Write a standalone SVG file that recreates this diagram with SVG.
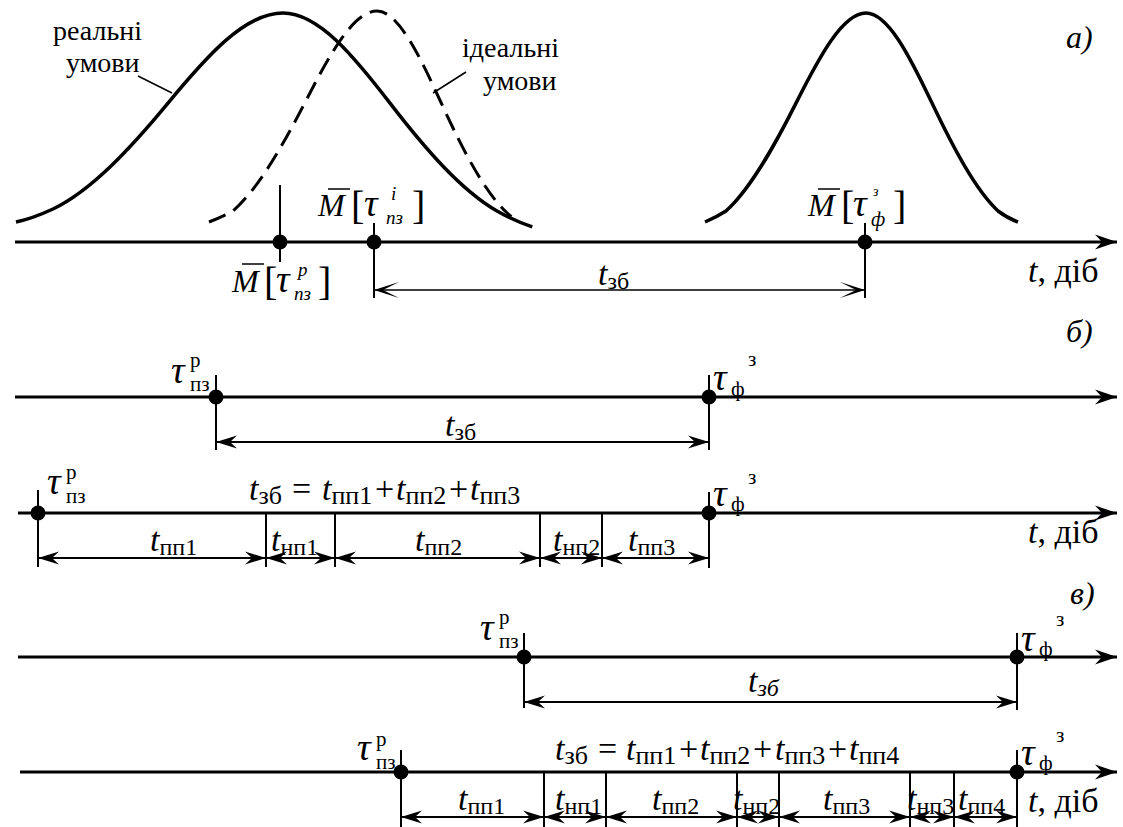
<svg xmlns="http://www.w3.org/2000/svg" width="1123" height="827" viewBox="0 0 1123 827" font-family="'Liberation Serif', 'Times New Roman', Times, Tinos, 'Nimbus Roman', 'Nimbus Roman No9 L', FreeSerif, 'Noto Serif', 'DejaVu Serif', serif">
<style>
text{fill:#000}
.i{font-style:italic}
.lb{font-size:28px}
.m{font-size:34px}
.t{font-size:38px}
.s{font-size:26px}
.sg{font-size:24px}
.ss{font-size:21px}
.br{font-size:40px}
.ax{stroke:#000;stroke-width:3;fill:none;marker-end:url(#ah)}
.tk{stroke:#000;stroke-width:2;fill:none}
.dm{stroke:#000;stroke-width:2;fill:none;marker-start:url(#dh);marker-end:url(#dh)}
.dt{stroke:#000;stroke-width:1.5;fill:none;marker-start:url(#dth);marker-end:url(#dth)}
.cv{stroke:#000;stroke-width:3.5;fill:none}
.ds{stroke-dasharray:18 9;stroke-width:3}
.ld{stroke:#000;stroke-width:1.5}
.bar{stroke:#000;stroke-width:1.5}
</style>
<defs>
<marker id="ah" viewBox="-23 -9 25 18" refX="0" refY="0" markerWidth="25" markerHeight="18" markerUnits="userSpaceOnUse" orient="auto"><path d="M0,0 L-22,-7.5 L-15,0 L-22,7.5 Z"/></marker>
<marker id="dh" viewBox="-23 -9 25 18" refX="0" refY="0" markerWidth="25" markerHeight="18" markerUnits="userSpaceOnUse" orient="auto-start-reverse"><path d="M0,0 L-21,-6.5 L-14,0 L-21,6.5 Z"/></marker>
<marker id="dth" viewBox="-27 -9 29 18" refX="0" refY="0" markerWidth="29" markerHeight="18" markerUnits="userSpaceOnUse" orient="auto-start-reverse"><path d="M0,0 L-25,-8 L-9,0 L-25,8 Z"/></marker>
</defs>

<g id="connectors">
<path class="ax" d="M15,242 H1117"/>
<path class="ax" d="M15,397 H1117"/>
<path class="ax" d="M18,513 H1117"/>
<path class="ax" d="M18,657 H1117"/>
<path class="ax" d="M20,772 H1117"/>
<path class="tk" d="M280,185 V262 M374,223 V298 M865,223 V298"/>
<path class="tk" d="M216,375 V450 M709,375 V450"/>
<path class="tk" d="M38,490 V567 M266,513 V567 M335,513 V567 M540,513 V567 M602,513 V567 M709,492 V568"/>
<path class="tk" d="M524,633 V708 M1017,633 V710"/>
<path class="tk" d="M401,750 V827 M544,772 V827 M606,772 V827 M737,772 V827 M779,772 V827 M910,772 V827 M954,772 V827 M1017,750 V827"/>
<path class="dt" d="M374,290 H865"/>
<path class="dm" d="M216,442 H709"/>
<path class="dm" d="M38,558 H266"/>
<path class="dm" d="M266,558 H335"/>
<path class="dm" d="M335,558 H540"/>
<path class="dm" d="M540,558 H602"/>
<path class="dm" d="M602,558 H709"/>
<path class="dm" d="M524,702 H1017"/>
<path class="dm" d="M401,817 H544"/>
<path class="dm" d="M544,817 H606"/>
<path class="dm" d="M606,817 H737"/>
<path class="dm" d="M737,817 H779"/>
<path class="dm" d="M779,817 H910"/>
<path class="dm" d="M910,817 H954"/>
<path class="dm" d="M954,817 H1017"/>
<path class="ld" d="M138,76 L172,93"/>
<path class="ld" d="M466,72 L433,93"/>
</g>

<g id="curve-real">
<path class="cv" d="M16,222 C28,219.5 40,215 53,209 C91.3,190.4 129.7,149.4 168,103.1 C206.3,56.8 244.7,13 283,13 C318.7,13 354.4,56.8 390,103.1 C425.6,149.4 461.4,190.4 497,211 C508.8,217.8 520.5,222.9 532.3,226.8"/>
<text class="lb" x="53" y="40">реальні</text>
<text class="lb" x="66" y="72">умови</text>
</g>
<g id="curve-ideal">
<path class="cv ds" d="M209,222 C217,219 225,215.5 233,210.9 C257,190.1 281,149 305,102.5 C329,56 353,11 377,11 C398.3,11 419.7,56 441,102.5 C462.3,149 483.7,190.1 505,210.9 C507.1,213 509.3,214.9 511.4,216.7"/>
<text class="lb" x="462" y="57">ідеальні</text>
<text class="lb" x="483" y="90">умови</text>
</g>
<g id="curve-fact">
<path class="cv" d="M705,222 C712,219 719,215.5 726,211 C749.3,190.4 772.7,149.4 796,103.1 C819.3,56.8 842.7,13 866,13 C888,13 910,56.8 932,103.1 C954,149.4 976,190.4 998,211 C1004.6,216 1011.2,219.5 1018,222"/>
</g>

<g id="panel-labels">
<text class="i" x="1066" y="48" font-size="32">а)</text>
<text class="i" x="1066" y="342" font-size="32">б)</text>
<text class="i" x="1070" y="604" font-size="32">в)</text>
</g>

<g id="a-points">
<circle cx="280" cy="242" r="7.5"/>
<circle cx="374" cy="242" r="7.5"/>
<circle cx="865" cy="242" r="7.5"/>
</g>
<g id="M-real">
<text class="i" x="232" y="292" font-size="32">M</text>
<path class="bar" d="M242,264 H264"/>
<text class="br" x="264" y="295">[</text>
<text class="i t" x="276" y="292">τ</text>
<text class="i" x="298" y="276" font-size="19">р</text>
<text class="i" x="294" y="300" font-size="19">пз</text>
<text class="br" x="318" y="295">]</text>
</g>
<g id="M-ideal">
<text class="i" x="318" y="216" font-size="32">M</text>
<path class="bar" d="M328,189 H350"/>
<text class="br" x="351" y="219">[</text>
<text class="i t" x="364" y="216">τ</text>
<text class="i" x="391" y="200" font-size="19">i</text>
<text class="i" x="386" y="224" font-size="19">пз</text>
<text class="br" x="412" y="219">]</text>
</g>
<g id="M-fact">
<text class="i" x="808" y="216" font-size="32">M</text>
<path class="bar" d="M818,189 H840"/>
<text class="br" x="841" y="219">[</text>
<text class="i t" x="853" y="216">τ</text>
<text class="i" x="873" y="196" font-size="14">з</text>
<text class="i" x="871" y="226" font-size="20">ф</text>
<text class="br" x="893" y="219">]</text>
</g>
<g id="a-labels">
<text x="598" y="285"><tspan class="i m">t</tspan><tspan class="sg" dy="4">зб</tspan></text>
<text class="m" x="1028" y="282"><tspan class="i">t</tspan>, діб</text>
</g>

<g id="b1">
<circle cx="216" cy="397" r="7.5"/>
<circle cx="709" cy="397" r="7.5"/>
<text class="i t" x="171" y="383">τ</text>
<text class="ss" x="190" y="367">р</text>
<text class="ss" x="190" y="391">пз</text>
<text class="i t" x="713" y="390">τ</text>
<text class="ss" x="731" y="396">ф</text>
<text class="ss" x="748" y="366">з</text>
<text x="445" y="436"><tspan class="i m">t</tspan><tspan class="sg" dy="4">зб</tspan></text>
</g>

<g id="b2">
<circle cx="38" cy="513" r="7.5"/>
<circle cx="709" cy="513" r="7.5"/>
<text class="i t" x="47" y="494">τ</text>
<text class="ss" x="66" y="479">р</text>
<text class="ss" x="66" y="503">пз</text>
<text class="i t" x="713" y="506">τ</text>
<text class="ss" x="731" y="511">ф</text>
<text class="ss" x="748" y="484">з</text>
<text class="m" y="500"><tspan class="i" x="249">t</tspan><tspan class="s" dy="4">зб</tspan><tspan x="292" dy="-4">=</tspan><tspan class="i" x="322">t</tspan><tspan class="s" dy="4">пп1</tspan><tspan x="375" dy="-4">+</tspan><tspan class="i" x="396">t</tspan><tspan class="s" dy="4">пп2</tspan><tspan x="449" dy="-4">+</tspan><tspan class="i" x="470">t</tspan><tspan class="s" dy="4">пп3</tspan></text>
<text class="m" y="551"><tspan class="i" x="150">t</tspan><tspan class="sg" dy="4">пп1</tspan></text>
<text class="m" y="551"><tspan class="i" x="271">t</tspan><tspan class="sg" dy="4">нп1</tspan></text>
<text class="m" y="551"><tspan class="i" x="415">t</tspan><tspan class="sg" dy="4">пп2</tspan></text>
<text class="m" y="551"><tspan class="i" x="553">t</tspan><tspan class="sg" dy="4">нп2</tspan></text>
<text class="m" y="551"><tspan class="i" x="628">t</tspan><tspan class="sg" dy="4">пп3</tspan></text>
<text class="m" x="1028" y="543"><tspan class="i">t</tspan>, діб</text>
</g>

<g id="c1">
<circle cx="524" cy="657" r="7.5"/>
<circle cx="1017" cy="657" r="7.5"/>
<text class="i t" x="480" y="640">τ</text>
<text class="ss" x="499" y="624">р</text>
<text class="ss" x="499" y="648">пз</text>
<text class="i t" x="1021" y="651">τ</text>
<text class="ss" x="1039" y="656">ф</text>
<text class="ss" x="1056" y="626">з</text>
<text x="748" y="692"><tspan class="i m">t</tspan><tspan class="i sg" dy="4">зб</tspan></text>
</g>

<g id="c2">
<circle cx="401" cy="772" r="7.5"/>
<circle cx="1017" cy="772" r="7.5"/>
<text class="i t" x="357" y="760">τ</text>
<text class="ss" x="376" y="746">р</text>
<text class="ss" x="376" y="769">пз</text>
<text class="i t" x="1021" y="765">τ</text>
<text class="ss" x="1039" y="770">ф</text>
<text class="ss" x="1056" y="742">з</text>
<text class="m" y="760"><tspan class="i" x="555">t</tspan><tspan class="s" dy="4">зб</tspan><tspan x="598" dy="-4">=</tspan><tspan class="i" x="626">t</tspan><tspan class="s" dy="4">пп1</tspan><tspan x="679" dy="-4">+</tspan><tspan class="i" x="700">t</tspan><tspan class="s" dy="4">пп2</tspan><tspan x="753" dy="-4">+</tspan><tspan class="i" x="775">t</tspan><tspan class="s" dy="4">пп3</tspan><tspan x="828" dy="-4">+</tspan><tspan class="i" x="849">t</tspan><tspan class="s" dy="4">пп4</tspan></text>
<text class="m" y="810"><tspan class="i" x="458">t</tspan><tspan class="sg" dy="4">пп1</tspan></text>
<text class="m" y="810"><tspan class="i" x="555">t</tspan><tspan class="sg" dy="4">нп1</tspan></text>
<text class="m" y="810"><tspan class="i" x="652">t</tspan><tspan class="sg" dy="4">пп2</tspan></text>
<text class="m" y="810"><tspan class="i" x="733">t</tspan><tspan class="sg" dy="4">нп2</tspan></text>
<text class="m" y="810"><tspan class="i" x="823">t</tspan><tspan class="sg" dy="4">пп3</tspan></text>
<text class="m" y="810"><tspan class="i" x="907">t</tspan><tspan class="sg" dy="4">нп3</tspan></text>
<text class="m" y="810"><tspan class="i" x="958">t</tspan><tspan class="sg" dy="4">пп4</tspan></text>
<text class="m" x="1028" y="812"><tspan class="i">t</tspan>, діб</text>
</g>
</svg>
